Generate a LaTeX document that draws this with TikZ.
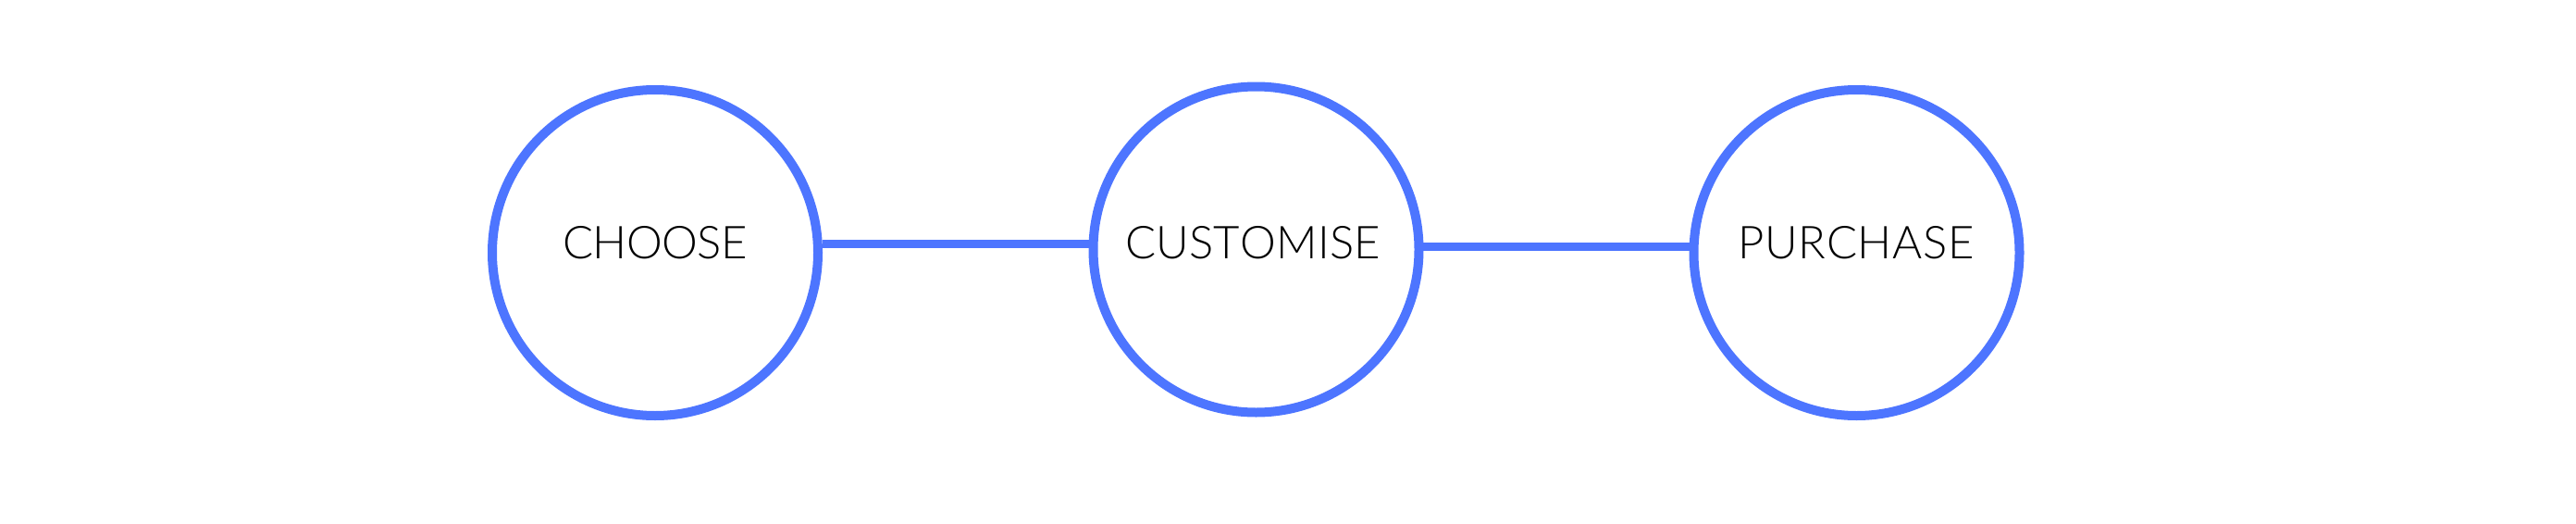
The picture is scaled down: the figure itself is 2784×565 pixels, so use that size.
\documentclass[tikz,border=0pt]{standalone}
\usepackage{fontspec}
\IfFontExistsTF{Lato Light}{\setmainfont{Lato Light}}{\setmainfont{Lato}}
\definecolor{stepblue}{RGB}{77,117,255}
\newlength\wordnat
\newlength\wordgap
\def\trkstep#1{\ifx#1\relax\unkern\else#1\kern\wordgap\expandafter\trkstep\fi}
\newcommand\fitword[3]{% target width, number of letters, word
  \settowidth\wordnat{\wordgap=0pt\trkstep#3\relax}%
  \wordgap=\dimexpr(#1-\wordnat)/(#2-1)\relax
  \trkstep#3\relax}
\begin{document}
\begin{tikzpicture}[x=1pt,y=1pt,
  ring/.style={circle,draw=stepblue,line width=10pt,fill=white,minimum size=352pt,inner sep=0pt},
  link/.style={draw=stepblue,line width=9.5pt},
  word/.style={anchor=base,font=\fontsize{49}{51}\selectfont,inner sep=0pt,text=black}]
\useasboundingbox[fill=white] (0,0) rectangle (2784,-565);
\node[ring] (c1) at (708,-273) {};
\node[ring] (c2) at (1357.5,-269.5) {};
\node[ring] (c3) at (2006.5,-273) {};
\draw[link] (c1.3.6) -- (c1.3.6 -| c2.west);
\draw[link] (c2.1.4) -- (c2.1.4 -| c3.west);
\node[word] (t1) at (708,-279.5) {\fitword{200pt}{6}{CHOOSE}};
\node[word] (t2) at (1354,-279.5) {\fitword{276pt}{9}{CUSTOMISE}};
\node[word] (t3) at (2006,-279.5) {\fitword{256pt}{8}{PURCHASE}};
\end{tikzpicture}
\end{document}
